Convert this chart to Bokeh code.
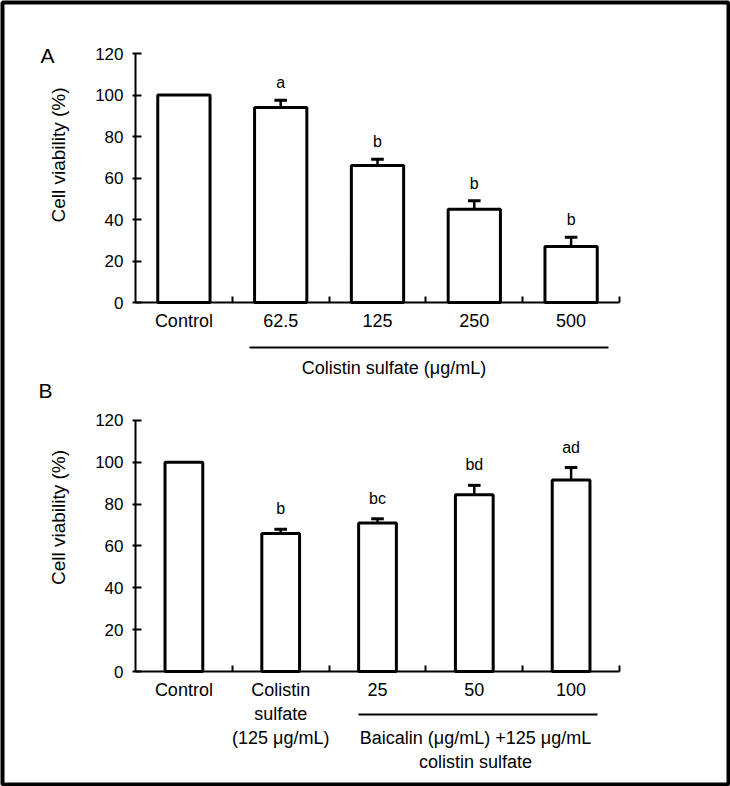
import numpy as np
from bokeh.plotting import figure
from bokeh.models import Range1d, LinearAxis, FixedTicker, ColumnDataSource
from bokeh.core.properties import value
from bokeh.embed import file_html
from bokeh.resources import INLINE

# ---------------- data ----------------
a_categories = ["Control", "62.5", "125", "250", "500"]
a_means = [100, 94, 66, 45, 27]
a_errors = [0, 3.5, 3.0, 4.0, 4.5]
a_letters = ["", "a", "b", "b", "b"]
a_group_label = "Colistin sulfate (μg/mL)"

b_categories = ["Control", "Colistin\nsulfate\n(125 μg/mL)", "25", "50", "100"]
b_means = [100, 66, 71, 84.5, 91.5]
b_errors = [0, 2.0, 2.0, 4.5, 6.0]
b_letters = ["", "b", "bc", "bd", "ad"]
b_group_lines = ["Baicalin (μg/mL) +125 μg/mL", "colistin sulfate"]

y_ticks = [0, 20, 40, 60, 80, 100, 120]
y_title = "Cell viability (%)"
panel_names = ["A", "B"]

# ---------------- layout (pixels inside the canvas) ----------------
W, H = 730, 786
MB = 2
AX_X0 = 135.0          # pixel x of the y axis
CAT_W = 96.8           # pixel width of one category
A_Y0, A_PPU = 302.0, 2.075
B_Y0, B_PPU = 671.0, 2.0917
FONT = "Liberation Sans"


def dx(px):
    return (px - AX_X0) / CAT_W


def dyA(py):
    return (A_Y0 - py) / A_PPU


def dyB(py):
    return (B_Y0 - py) / B_PPU


x_range = Range1d(dx(MB), dx(W - MB))
yA = Range1d(dyA(H - MB), dyA(MB))
yB = Range1d(dyB(H - MB), dyB(MB))

p = figure(width=W, height=H, x_range=x_range, y_range=yA,
           x_axis_type=None, y_axis_type=None, title=None,
           output_backend="svg", toolbar_location=None, min_border=MB,
           outline_line_color="black", outline_line_width=4,
           background_fill_color="white", border_fill_color="white")
p.extra_y_ranges = {"B": yB}

centers = np.arange(len(a_categories)) + 0.5


def add_axes(rname, cats):
    yax = LinearAxis(fixed_location=0, bounds=(0, 120), y_range_name=rname,
                     ticker=FixedTicker(ticks=y_ticks))
    yax.axis_line_width = 2
    yax.major_tick_in = 6
    yax.major_tick_out = 3
    yax.major_tick_line_width = 2
    yax.minor_tick_line_color = None
    yax.major_label_standoff = 9
    yax.major_label_text_font = FONT
    yax.major_label_text_font_size = "17px"
    yax.major_label_text_color = "black"
    p.add_layout(yax, "left")

    xax = LinearAxis(fixed_location=0, bounds=(0, len(cats)), y_range_name=rname,
                     ticker=FixedTicker(ticks=list(centers),
                                        minor_ticks=list(range(1, len(cats) + 1))),
                     major_label_overrides={float(c): lab for c, lab in zip(centers, cats)})
    xax.axis_line_width = 2
    xax.major_tick_line_color = None
    xax.major_tick_in = 0
    xax.major_tick_out = 0
    xax.minor_tick_in = 6
    xax.minor_tick_out = 0
    xax.minor_tick_line_width = 2
    xax.major_label_standoff = 8
    xax.major_label_text_font = FONT
    xax.major_label_text_font_size = "18px"
    xax.major_label_text_color = "black"
    p.add_layout(xax, "below")


def add_bars(rname, means, errors, letters, width, letter_off):
    means = np.array(means, dtype=float)
    errors = np.array(errors, dtype=float)
    p.vbar(x=centers, top=means, bottom=0, width=width, fill_color="white",
           line_color="black", line_width=3, y_range_name=rname)
    m = errors > 0
    src = ColumnDataSource(dict(x=centers[m], y0=means[m], y1=(means + errors)[m]))
    p.segment(x0="x", y0="y0", x1="x", y1="y1", source=src, line_color="black",
              line_width=2.5, y_range_name=rname)
    hw = 0.065
    p.segment(x0=centers[m] - hw, y0=(means + errors)[m], x1=centers[m] + hw,
              y1=(means + errors)[m], line_color="black", line_width=3,
              y_range_name=rname)
    p.text(x=centers, y=means + errors, text=letters, text_align="center",
           text_baseline="bottom", y_offset=-letter_off,
           text_font=value(FONT), text_font_size="16px", text_color="black",
           y_range_name=rname)


# Panel A
add_axes("default", a_categories)
add_bars("default", a_means, a_errors, a_letters, 0.54, 9)
# Panel B
add_axes("B", b_categories)
add_bars("B", b_means, b_errors, b_letters, 0.39, 12)

# panel letters
p.text(x=[dx(40)], y=[dyA(55)], text=[panel_names[0]], text_align="left",
       text_baseline="middle", text_font=value(FONT), text_font_size="21px",
       text_color="black")
p.text(x=[dx(38)], y=[dyB(390)], text=[panel_names[1]], text_align="left",
       text_baseline="middle", text_font=value(FONT), text_font_size="21px",
       text_color="black", y_range_name="B")

# y titles
p.text(x=[dx(57.5)], y=[dyA(154.5)], text=[y_title], angle=np.pi / 2,
       text_align="center", text_baseline="middle", text_font=value(FONT),
       text_font_size="19px", text_color="black")
p.text(x=[dx(57.5)], y=[dyB(517)], text=[y_title], angle=np.pi / 2,
       text_align="center", text_baseline="middle", text_font=value(FONT),
       text_font_size="19px", text_color="black", y_range_name="B")

# group bracket lines and labels
p.segment(x0=[dx(249)], y0=[dyA(347)], x1=[dx(608)], y1=[dyA(347)],
          line_color="black", line_width=2)
p.text(x=[dx(393.5)], y=[dyA(367)], text=[a_group_label], text_align="center",
       text_baseline="middle", text_font=value(FONT), text_font_size="18px",
       text_color="black")

p.segment(x0=[dx(358)], y0=[dyB(714)], x1=[dx(597)], y1=[dyB(714)],
          line_color="black", line_width=2, y_range_name="B")
p.text(x=[dx(475)] * len(b_group_lines), y=[dyB(737), dyB(761)], text=b_group_lines,
       text_align="center", text_baseline="middle", text_font=value(FONT),
       text_font_size="18px", text_color="black", y_range_name="B")

open("out.html", "w").write(file_html(p, INLINE))
